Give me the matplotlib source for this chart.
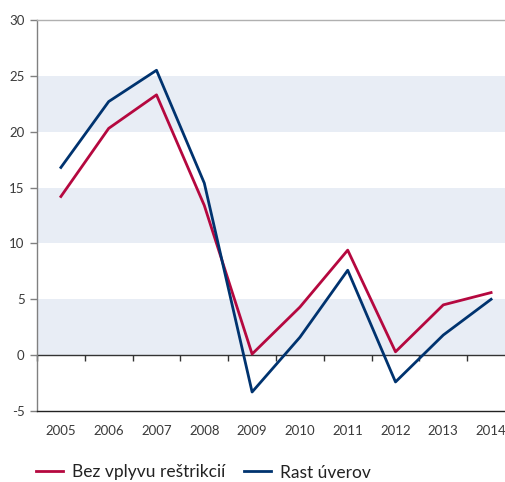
import matplotlib
matplotlib.use("Agg")
import matplotlib.pyplot as plt
import numpy as np

years = ["2005", "2006", "2007", "2008", "2009", "2010", "2011", "2012", "2013", "2014"]
bez_vplyvu = [14.2, 20.3, 23.3, 13.4, 0.1, 4.3, 9.4, 0.3, 4.5, 5.6]
rast_uverov = [16.8, 22.7, 25.5, 15.4, -3.3, 1.6, 7.6, -2.4, 1.8, 5.0]
y_ticks = [-5, 0, 5, 10, 15, 20, 25, 30]
bands = [(0, 5), (10, 15), (20, 25)]

RED = "#b5083f"
BLUE = "#00336f"
TXT = "#3a3a3a"

plt.rcParams["font.family"] = ["Lato", "DejaVu Sans"]

fig = plt.figure(figsize=(5.05, 4.82), dpi=100)
ax = fig.add_axes([37 / 505, 71 / 482, 478 / 505, 391 / 482])

x = np.arange(len(years))
for lo, hi in bands:
    ax.axhspan(lo, hi, color="#e8edf5", zorder=0, lw=0)

ax.plot(x, bez_vplyvu, color=RED, lw=2, label="Bez vplyvu reštrikcií", zorder=3)
ax.plot(x, rast_uverov, color=BLUE, lw=2, label="Rast úverov", zorder=3)

ax.set_xlim(-0.5, len(years) - 0.5)
ax.set_ylim(-5, 30)
ax.set_yticks(y_ticks)
ax.set_yticklabels([str(v) for v in y_ticks])
ax.set_xticks(x)
ax.set_xticklabels(years)
ax.tick_params(axis="x", length=0, pad=10, labelsize=9.5, colors=TXT)
ax.tick_params(axis="y", length=5, width=1, color="#808080", pad=4, labelsize=9.5, labelcolor=TXT)

ax.spines["right"].set_visible(False)
ax.spines["top"].set_color("#b0b0b0")
ax.spines["top"].set_linewidth(1)
ax.spines["left"].set_color("#808080")
ax.spines["left"].set_linewidth(1)
ax.spines["bottom"].set_color("#222222")
ax.spines["bottom"].set_linewidth(1)

# zero line with category-boundary ticks
sec = ax.secondary_xaxis(5 / 35)
sec.set_xticks(np.arange(-0.5, len(years), 1.0))
sec.set_xticklabels([])
sec.tick_params(axis="x", direction="out", length=4, width=1, color="#333333")
sec.spines["bottom"].set_color("#333333")
sec.spines["bottom"].set_linewidth(1)

fig.legend(loc="center left", bbox_to_anchor=(36 / 505, 9.5 / 482), ncol=2, frameon=False,
           fontsize=12.5, handlelength=1.55, handletextpad=0.5, columnspacing=1.1,
           borderpad=0, borderaxespad=0, labelcolor="#222222")

fig.savefig("out.png", dpi=100)
